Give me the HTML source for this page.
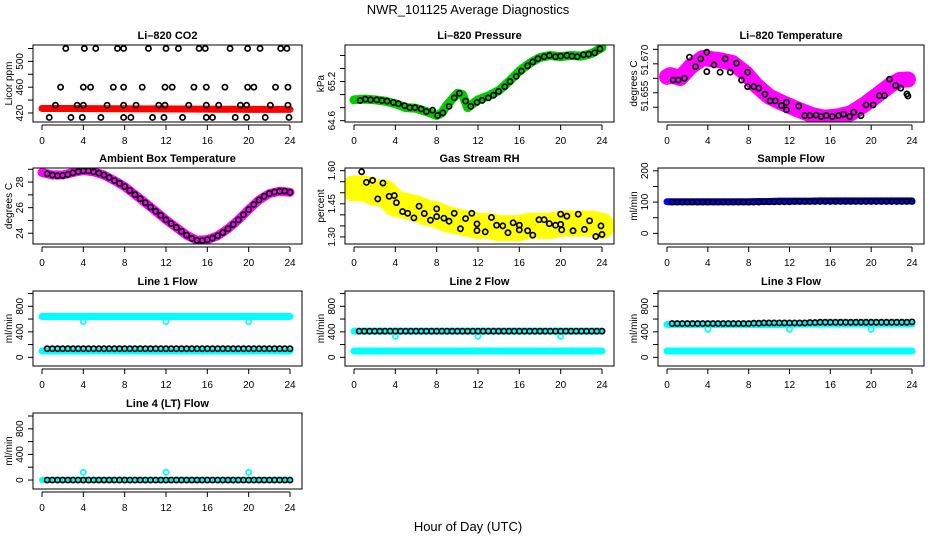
<!DOCTYPE html>
<html><head><meta charset="utf-8"><style>
html,body{margin:0;padding:0;background:#fff;}
svg{display:block;font-family:"Liberation Sans",Arial,sans-serif;}
</style></head><body>
<svg id="chart" width="936" height="540" viewBox="0 0 936 540" xmlns="http://www.w3.org/2000/svg">
<text x="468" y="14" text-anchor="middle" font-size="13">NWR_101125  Average Diagnostics</text>
<text x="468" y="531" text-anchor="middle" font-size="13">Hour of Day (UTC)</text>
</svg>
<script>
const HH=[0.5,1,1.5,2,2.5,3,3.5,4,4.5,5,5.5,6,6.5,7,7.5,8,8.5,9,9.5,10,10.5,11,11.5,12,12.5,13,13.5,14,14.5,15,15.5,16,16.5,17,17.5,18,18.5,19,19.5,20,20.5,21,21.5,22,22.5,23,23.5,24];
const HOURS=[0,1,2,3,4,5,6,7,8,9,10,11,12,13,14,15,16,17,18,19,20,21,22,23,24];
const xTicks=[0,4,8,12,16,20,24];
const dipHours=[4,12,20];
// CO2
const co2Red=[427,427,427,427,426.8,426.8,426.5,426.5,426.5,426.4,426.4,426.3,426.2,426.2,426.1,426,425.9,425.8,425.8,425.7,425.6,425.6,425.5,425.5,425.5];
const co2HiH=[2.3,4.1,5.2,7.3,7.9,10.3,12.0,13.2,15.2,15.8,18.2,19.9,21.1,23.1,23.7];
const co2HiV=[520,520,520,520,520,520,520,520,520,520,520,520,520,520,520];
const co2MidH=[1.8,4.0,4.7,6.9,7.9,9.7,11.9,12.6,14.7,15.9,17.7,19.9,20.5,22.6,23.8];
const co2MidV=[460,460,460,460,460,460,460,460,460,460,460,460,460,460,460];
const co2LowH=[1.3,3.4,4.0,6.3,7.9,9.1,11.3,11.9,14.2,15.9,17.1,19.2,19.8,22.1,23.8];
const co2LowV=[432,432,432,432,432,432,432,432,432,432,432,432,432,432,432];
const co2MinH=[0.7,2.8,3.9,5.7,7.9,8.6,10.7,11.8,13.6,15.9,16.5,18.7,19.8,21.6,23.9];
const co2MinV=[413,413,413,413,413,413,413,413,413,413,413,413,413,413,413];
// Pressure
const presGreenH=[0,1,2,3,4,5,6,7,8,8.5,9,10,10.5,11,11.5,12,13,14,15,16,17,18,19,20,21,22,23,24];
const presGreenV=[64.92,64.93,64.92,64.9,64.86,64.8,64.79,64.74,64.68,64.72,64.84,65.02,65.0,64.8,64.86,64.92,64.98,65.06,65.2,65.36,65.48,65.57,65.6,65.58,65.6,65.59,65.63,65.72];
const presBlackH=[0.6,1.1,1.6,2.2,2.7,3.2,3.8,4.3,4.9,5.4,5.9,6.5,7.0,7.6,8.1,8.6,9.2,9.7,10.2,10.8,11.3,11.9,12.4,13.0,13.5,14.0,14.6,15.1,15.7,16.2,16.8,17.3,17.8,18.4,18.9,19.5,20.0,20.6,21.1,21.6,22.2,22.7,23.3,23.8];
const presBlackV=[64.91,64.93,64.92,64.92,64.91,64.9,64.88,64.86,64.83,64.8,64.8,64.78,64.74,64.76,64.68,64.72,64.82,64.95,65.02,64.9,64.82,64.88,64.91,64.95,64.99,65.05,65.12,65.2,65.28,65.36,65.44,65.5,65.55,65.58,65.6,65.58,65.59,65.6,65.59,65.58,65.61,65.62,65.64,65.7];
// Li-820 temperature
const tempMagH=[0,0.3,1.3,2.3,3.5,5.1,6.4,7.7,8.7,10,11.3,12.9,14.2,15.4,16.7,18,19.3,20.6,21.9,22.8,23.6];
const tempMagV=[51.6605,51.6611,51.6601,51.664,51.667,51.6663,51.6653,51.6618,51.6577,51.6537,51.6515,51.6491,51.6473,51.6464,51.6468,51.6479,51.6508,51.6542,51.6577,51.6594,51.6596];
const tempBlackH=[0.6,1.1,1.7,2.2,2.8,3.3,3.9,3.9,4.6,5.2,5.7,6.2,6.8,7.3,7.9,7.9,8.5,9.0,9.6,10.1,10.6,11.2,11.7,11.7,12.9,13.5,14.0,14.6,15.1,15.6,16.2,16.8,17.3,17.9,18.3,19.0,19.5,20.2,20.8,21.3,21.8,22.4,22.9,23.5,23.6];
const tempBlackV=[51.6594,51.6594,51.66,51.6673,51.664,51.6667,51.669,51.6623,51.6646,51.6621,51.6667,51.6621,51.6652,51.6594,51.6621,51.6571,51.6571,51.6566,51.6545,51.6522,51.6522,51.6506,51.6517,51.6491,51.6504,51.6471,51.6471,51.6473,51.6468,51.6471,51.6468,51.6471,51.6476,51.6468,51.6483,51.6471,51.6508,51.6508,51.654,51.654,51.6597,51.6575,51.6566,51.6546,51.6539];
// Ambient box temperature
const ambMag=[28.75,28.55,28.55,28.75,28.9,28.8,28.55,28.12,27.65,27.02,26.38,25.72,25.05,24.45,23.85,23.45,23.5,23.8,24.35,25.05,25.85,26.6,27.1,27.28,27.2];
const ambBlack=[28.65,28.55,28.48,28.52,28.6,28.72,28.82,28.88,28.88,28.8,28.7,28.55,28.35,28.12,27.9,27.65,27.35,27.02,26.7,26.38,26.05,25.72,25.4,25.05,24.75,24.45,24.15,23.85,23.6,23.45,23.42,23.5,23.62,23.8,24.05,24.35,24.68,25.05,25.45,25.85,26.25,26.6,26.9,27.1,27.22,27.28,27.3,27.2];
// Gas stream RH
const rhYellow=[1.52,1.52,1.5,1.5,1.45,1.44,1.43,1.41,1.4,1.38,1.37,1.36,1.35,1.35,1.34,1.34,1.34,1.35,1.35,1.35,1.36,1.36,1.36,1.36,1.35];
const rhBlackH=[0.74,1.2,1.8,2.3,2.8,3.4,3.9,4.1,4.7,5.2,5.8,6.3,6.8,7.4,8.0,8.0,8.7,9.2,9.7,10.3,10.8,11.4,11.9,11.9,12.7,13.3,13.8,14.4,14.9,15.4,16.0,16.0,16.8,17.3,17.9,18.4,18.9,19.5,20.0,20.0,20.1,20.6,21.2,21.7,22.3,22.8,23.4,23.9,24.0];
const rhBlackV=[1.595,1.547,1.556,1.472,1.544,1.484,1.487,1.455,1.415,1.407,1.386,1.439,1.406,1.376,1.392,1.427,1.385,1.371,1.407,1.337,1.383,1.407,1.359,1.329,1.323,1.388,1.353,1.35,1.319,1.364,1.353,1.332,1.328,1.308,1.378,1.378,1.36,1.353,1.403,1.357,1.332,1.394,1.328,1.403,1.334,1.373,1.302,1.35,1.311];
// Sample flow
const sampleBlue=[101,101,101,101,101,101,101,101,101,102,102,103,103,103,103,104,104,104,104,104,104,104,104,104,104];
const sampleBlack=[100,100,100,100,100,100,100,100,100,100,100,100,100,100,100,100,100,100,101,101,101,101,101,101,102,102,102,102,102,102,102,102,102,102,102,102,102,102,102,102,102,102,102,102,102,102,102,102];
// Line flows
const l1Top=[640,640,640,640,640,640,640,640,640,640,640,640,640,640,640,640,640,640,640,640,640,640,640,640,640];
const l1Bot=[100,100,100,100,100,100,100,100,100,100,100,100,100,100,100,100,100,100,100,100,100,100,100,100,100];
const l1Dip=[560,560,560];
const l1Black=[135,135,135,135,135,135,135,135,135,135,135,135,135,135,135,135,135,135,135,135,135,135,135,135,135,135,135,135,135,135,135,135,135,135,135,135,135,135,135,135,135,135,135,135,135,135,135,135];
const l2Top=[410,410,410,410,410,410,410,410,410,410,410,410,410,410,410,410,410,410,410,410,410,410,410,410,410];
const l2Bot=[100,100,100,100,100,100,100,100,100,100,100,100,100,100,100,100,100,100,100,100,100,100,100,100,100];
const l2Dip=[330,330,330];
const l2Black=[410,410,410,410,410,410,410,410,410,410,410,410,410,410,410,410,410,410,410,410,410,410,410,410,410,410,410,410,410,410,410,410,410,410,410,410,410,410,410,410,410,410,410,410,410,410,410,410];
const l3Top=[515,515,515,515,515,515,515,515,515,515,515,515,518,520,520,520,522,522,522,522,522,522,522,522,522];
const l3Bot=[100,100,100,100,100,100,100,100,100,100,100,100,100,100,100,100,100,100,100,100,100,100,100,100,100];
const l3Dip=[440,440,440];
const l3Black=[530,530,530,530,530,530,530,530,530,530,530,530,530,530,530,530,535,535,540,540,540,540,540,540,540,540,540,545,545,550,550,550,550,550,550,550,550,550,550,550,550,550,550,550,550,550,550,555];
const l4Base=[0,0,0,0,0,0,0,0,0,0,0,0,0,0,0,0,0,0,0,0,0,0,0,0,0];
const l4Dip=[120,120,120];
const l4Black=[0,0,0,0,0,0,0,0,0,0,0,0,0,0,0,0,0,0,0,0,0,0,0,0,0,0,0,0,0,0,0,0,0,0,0,0,0,0,0,0,0,0,0,0,0,0,0,0];

const NS='http://www.w3.org/2000/svg';
const svg=document.getElementById('chart');
const colL=[33,345,658], colR=[302,614,924];
const rowT=[45,168,291,413], rowB=[122,244,366,489];
function mk(tag,attrs,parent){const e=document.createElementNS(NS,tag);for(const k in attrs)e.setAttribute(k,attrs[k]);(parent||svg).appendChild(e);return e;}
function panel(name,col,row,title,ylab,ymin,ymax,yticks,ylabels){
  const L=colL[col],R=colR[col],T=rowT[row],B=rowB[row];
  const g=mk('g',{});
  
  
  const x0=L+9,pw=(R-L-21)/24;
  const sx=h=>x0+h*pw;
  const sy=v=>B-(v-ymin)/(ymax-ymin)*(B-T);
  const clipId='c'+name;
  const cp=mk('clipPath',{id:clipId},g);
  mk('rect',{x:L,y:T,width:R-L,height:B-T},cp);
  const plot=mk('g',{'clip-path':'url(#'+clipId+')'},g);
  
  
  const box=mk('rect',{x:L,y:T,width:R-L,height:B-T,fill:'none',stroke:'#000','stroke-width':1},g);
  
  
  const t=mk('text',{x:(L+R)/2,y:T-6,'text-anchor':'middle','font-size':11,'font-weight':'bold'},g);
  t.textContent=title;
  
  
  const xa=mk('g',{},g);
  
  
  mk('line',{x1:sx(0),x2:sx(24),y1:B+3,y2:B+3,stroke:'#000'},xa);
  xTicks.forEach(h=>{mk('line',{x1:sx(h),x2:sx(h),y1:B+3,y2:B+8,stroke:'#000'},xa);
    const tl=mk('text',{x:sx(h),y:B+22,'text-anchor':'middle','font-size':10},xa);tl.textContent=h;});
  const ya=mk('g',{},g);
  
  
  yticks.forEach(v=>{mk('line',{x1:L-5,x2:L,y1:sy(v),y2:sy(v),stroke:'#000'},ya);});
  ylabels.forEach(lb=>{const y=lb.y!==undefined?lb.y:sy(lb.v);
    const tl=mk('text',{x:0,y:0,transform:'translate('+(L-10)+','+y+') rotate(-90)','text-anchor':'middle','font-size':10},ya);tl.textContent=lb.t;});
  const yl=mk('text',{x:0,y:0,transform:'translate('+(L-21)+','+(T+B)/2+') rotate(-90)','text-anchor':'middle','font-size':10},g);
  yl.textContent=ylab;
  
  
  return {sx,sy,plot,name};
}
function line(p,hs,vs,color,w,label){
  const e=mk('polyline',{points:hs.map((h,i)=>p.sx(h)+','+p.sy(vs[i])).join(' '),fill:'none',stroke:color,'stroke-width':w,'stroke-linejoin':'round','stroke-linecap':'round'},p.plot);
  
  
}
function pts(p,hs,vs,color,label){
  const g=mk('g',{},p.plot);
  
  
  hs.forEach((h,i)=>mk('circle',{cx:p.sx(h),cy:p.sy(vs[i]),r:2.6,fill:'none',stroke:color,'stroke-width':1.7},g));
}
function L(vals){return vals.map(v=>({v:v,t:String(v)}));}

// 1 CO2
let p=panel('co2',0,0,'Li\u2013820 CO2','Licor ppm',406,525.4,[420,440,460,480,500,520],L([420,460,500]));
line(p,HOURS,co2Red,'#ff0000',7,'red-series');
pts(p,co2HiH,co2HiV,'#000','black-high');
pts(p,co2MidH,co2MidV,'#000','black-mid');
pts(p,co2LowH,co2LowV,'#000','black-low');
pts(p,co2MinH,co2MinV,'#000','black-min');
// 2 Pressure
p=panel('pressure',1,0,'Li\u2013820 Pressure','kPa',64.58,65.76,[64.6,64.8,65.0,65.2,65.4,65.6],[{v:64.6,t:'64.6'},{v:65.2,t:'65.2'}]);
line(p,presGreenH,presGreenV,'#00cc00',9,'green-series');
pts(p,presBlackH,presBlackV,'#000','black-series');
// 3 Li temp
p=panel('li-temp',2,0,'Li\u2013820 Temperature','degrees C',51.6449,51.6715,[51.650,51.655,51.660,51.665,51.670],[{y:60,t:'51.670'},{y:96,t:'51.655'}]);
line(p,tempMagH,tempMagV,'#ff00ff',16,'magenta-series');
pts(p,tempBlackH,tempBlackV,'#000','black-series');
// 4 Ambient
p=panel('ambient',0,1,'Ambient Box Temperature','degrees C',23.16,29.1,[24,25,26,27,28,29],L([24,26,28]));
line(p,HOURS,ambMag,'#ff00ff',9,'magenta-series');
pts(p,HH,ambBlack,'#000','black-series');
// 5 RH
p=panel('gas-rh',1,1,'Gas Stream RH','percent',1.268,1.612,[1.30,1.35,1.40,1.45,1.50,1.55,1.60],[{v:1.30,t:'1.30'},{v:1.45,t:'1.45'},{v:1.60,t:'1.60'}]);
line(p,HOURS,rhYellow,'#ffff00',26,'yellow-series');
pts(p,rhBlackH,rhBlackV,'#000','black-series');
// 6 Sample flow
p=panel('sample-flow',2,1,'Sample Flow','ml/min',-34,209,[0,50,100,150,200],L([0,100,200]));
line(p,HOURS,sampleBlue,'#0000ff',7,'blue-series');
pts(p,HH,sampleBlack,'#000','black-series');
// 7-10 Line flows
const flowTicks=[0,200,400,600,800,1000];
p=panel('line1-flow',0,2,'Line 1 Flow','ml/min',-136,1040,flowTicks,L([0,400,800]));
line(p,HOURS,l1Top,'#00ffff',7,'cyan-high');
line(p,HOURS,l1Bot,'#00ffff',7,'cyan-low');
pts(p,dipHours,l1Dip,'#00ffff','cyan-dips');
pts(p,HH,l1Black,'#000','black-series');
p=panel('line2-flow',1,2,'Line 2 Flow','ml/min',-136,1040,flowTicks,L([0,400,800]));
line(p,HOURS,l2Top,'#00ffff',7,'cyan-high');
line(p,HOURS,l2Bot,'#00ffff',7,'cyan-low');
pts(p,dipHours,l2Dip,'#00ffff','cyan-dips');
pts(p,HH,l2Black,'#000','black-series');
p=panel('line3-flow',2,2,'Line 3 Flow','ml/min',-136,1040,flowTicks,L([0,400,800]));
line(p,HOURS,l3Top,'#00ffff',7,'cyan-high');
line(p,HOURS,l3Bot,'#00ffff',7,'cyan-low');
pts(p,dipHours,l3Dip,'#00ffff','cyan-dips');
pts(p,HH,l3Black,'#000','black-series');
p=panel('line4-flow',0,3,'Line 4 (LT) Flow','ml/min',-140,1047,flowTicks,L([0,400,800]));
line(p,HOURS,l4Base,'#00ffff',6,'cyan-series');
pts(p,dipHours,l4Dip,'#00ffff','cyan-spikes');
pts(p,HH,l4Black,'#000','black-series');
</script>
</body></html>
